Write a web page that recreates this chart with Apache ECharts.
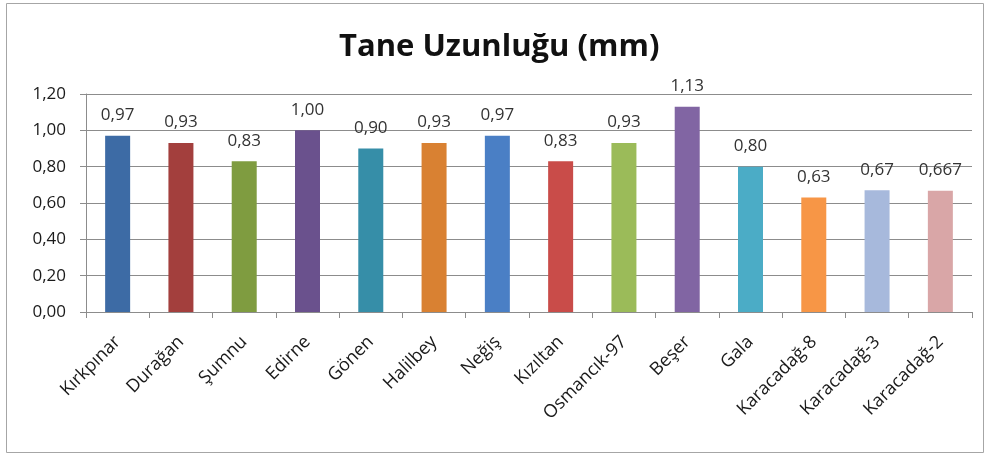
<!DOCTYPE html>
<html>
<head>
<meta charset="utf-8">
<script src="https://cdn.jsdelivr.net/npm/echarts@6/dist/echarts.min.js"></script>
<style>
  html, body { margin: 0; padding: 0; background: #ffffff; }
  #chart { width: 986px; height: 456px; }
</style>
</head>
<body>
<div id="chart"></div>
<script>
// Grain length per variety (mm)
const varieties = ['Kırkpınar', 'Durağan', 'Şumnu', 'Edirne', 'Gönen', 'Halilbey', 'Neğiş',
  'Kızıltan', 'Osmancık-97', 'Beşer', 'Gala', 'Karacadağ-8', 'Karacadağ-3', 'Karacadağ-2'];
const lengths = [0.97, 0.93, 0.83, 1.00, 0.90, 0.93, 0.97, 0.83, 0.93, 1.13, 0.80, 0.63, 0.67, 0.667];
const barColors = ['#3d6ba5', '#a33f3d', '#7f9c40', '#6a518d', '#368ea8', '#d98132', '#4a7fc5',
  '#c94c49', '#9bbb59', '#8165a3', '#4bacc6', '#f79646', '#a7b9dc', '#d9a6a7'];
const yTicks = { min: 0, max: 1.2, interval: 0.2 };

const FONT = '"Open Sans", "DejaVu Sans", sans-serif';
const comma = s => s.replace('.', ',');
// two decimals unless the value carries more precision
const fmtValue = v => {
  let s = v.toFixed(2);
  if (Number(s) !== v) s = String(v);
  return comma(s);
};

const chart = echarts.init(document.getElementById('chart'), null, { renderer: 'canvas' });
chart.setOption({
  animation: false,
  backgroundColor: '#ffffff',
  title: {
    text: 'Tane Uzunluğu (mm)',
    left: 334,
    top: 27,
    textStyle: { fontFamily: FONT, fontSize: 31, fontWeight: 'bold', color: '#111111' }
  },
  graphic: [{
    type: 'rect',
    shape: { x: 6.5, y: 3.5, width: 977, height: 449 },
    style: { fill: 'none', stroke: '#a6a6a6', lineWidth: 1 },
    silent: true
  }],
  grid: { left: 86, right: 14, top: 94, bottom: 144, containLabel: false },
  xAxis: {
    type: 'category',
    data: varieties,
    axisLine: { lineStyle: { color: '#8c8c8c', width: 1 } },
    axisTick: { show: true, length: 6, lineStyle: { color: '#8c8c8c' } },
    axisLabel: {
      rotate: 45, margin: 27, interval: 0,
      fontFamily: FONT, fontSize: 18, color: '#1a1a1a'
    }
  },
  yAxis: {
    type: 'value',
    min: yTicks.min, max: yTicks.max, interval: yTicks.interval,
    axisLine: { show: true, lineStyle: { color: '#8c8c8c', width: 1 } },
    axisTick: { show: true, length: 6, lineStyle: { color: '#8c8c8c' } },
    splitLine: { lineStyle: { color: '#8c8c8c', width: 1 } },
    axisLabel: {
      margin: 20, fontFamily: FONT, fontSize: 17, color: '#1a1a1a',
      formatter: v => comma(v.toFixed(2))
    }
  },
  series: [{
    type: 'bar',
    barWidth: 25,
    data: lengths.map((v, i) => ({
      value: v,
      itemStyle: { color: barColors[i] }
    })),
    label: {
      show: true, position: 'top', distance: 12,
      fontFamily: FONT, fontSize: 17, color: '#333333',
      formatter: p => fmtValue(p.value)
    }
  }]
});
</script>
</body>
</html>
